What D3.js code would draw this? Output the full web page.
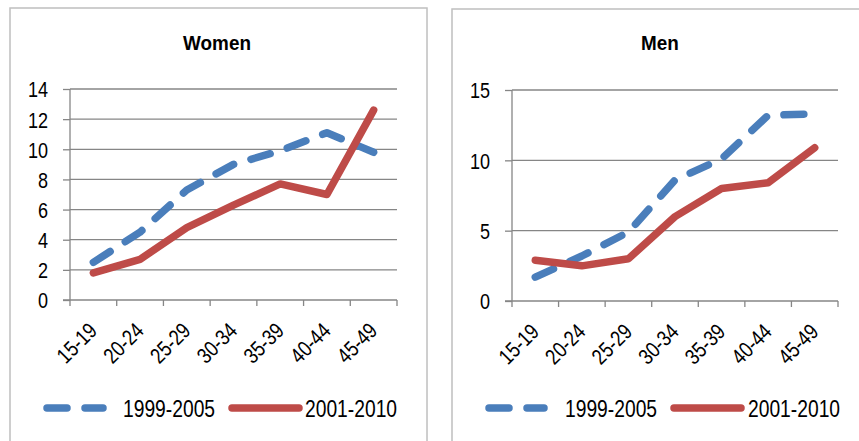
<!DOCTYPE html>
<html><head><meta charset="utf-8">
<script src="https://cdn.jsdelivr.net/npm/d3@7/dist/d3.min.js"></script>
<style>
html,body{margin:0;padding:0;background:#fff;}
svg{display:block;}
text{font-family:"Liberation Sans",Arial,sans-serif;fill:#000;}
</style></head>
<body>
<svg id="c" width="859" height="441"></svg>
<script>
const categories = ["15-19","20-24","25-29","30-34","35-39","40-44","45-49"];
const seriesNames = ["1999-2005","2001-2010"];
const women1999 = [2.5, 4.5, 7.3, 9.0, 9.9, 11.1, 9.8];
const women2001 = [1.8, 2.7, 4.8, 6.3, 7.7, 7.0, 12.6];
const men1999 = [1.7, 3.2, 4.9, 8.6, 10.1, 13.2, 13.3];
const men2001 = [2.9, 2.5, 3.0, 6.0, 8.0, 8.4, 10.9];
const womenTicks = [0,2,4,6,8,10,12,14];
const menTicks = [0,5,10,15];

const colors = ["#4a7ebb", "#be4b48"];
const NARROW = 0.82;
const svg = d3.select("#c");

function panel(cfg){
  const g = svg.append("g");
  g.append("rect").attr("x",cfg.px).attr("y",cfg.py).attr("width",cfg.pw).attr("height",460)
    .attr("fill","#fff").attr("stroke","#bfbfbf").attr("stroke-width",1.5);
  const x = d3.scaleBand().domain(categories).range([cfg.x0,cfg.x1]).paddingInner(0).paddingOuter(0);
  const y = d3.scaleLinear().domain([0,cfg.ymax]).range([cfg.yb,cfg.yt]);
  // gridlines
  g.append("g").selectAll("line").data(cfg.ticks.filter(t=>t>0)).join("line")
    .attr("x1",cfg.x0).attr("x2",cfg.x1).attr("y1",d=>y(d)).attr("y2",d=>y(d))
    .attr("stroke","#868686").attr("stroke-width",1.3);
  // y axis
  const ya = g.append("g").attr("transform",`translate(${cfg.x0},0)`)
    .call(d3.axisLeft(y).tickValues(cfg.ticks).tickSize(7).tickPadding(15).tickFormat(d3.format("d")));
  ya.select(".domain").attr("stroke","#868686").attr("stroke-width",1.3).attr("d",`M0,${cfg.yb}V${cfg.yt}`);
  ya.selectAll(".tick line").attr("stroke","#868686").attr("stroke-width",1.3);
  ya.selectAll(".tick text").attr("font-size",22).attr("dy","0.36em")
    .attr("x",-cfg.ylabGap/NARROW).attr("transform",`scale(${NARROW},1)`)
    .style("font-family",'"Liberation Sans",Arial,sans-serif').attr("fill","#000");
  // x axis
  const xa = g.append("g").attr("transform",`translate(0,${cfg.yb})`)
    .call(d3.axisBottom(x).tickSize(0).tickFormat(""));
  xa.select(".domain").remove();
  const edges = d3.range(categories.length+1).map(i=>cfg.x0 + i*x.bandwidth());
  xa.append("line").attr("x1",cfg.x0-7).attr("x2",cfg.x1).attr("y1",0).attr("y2",0)
    .attr("stroke","#868686").attr("stroke-width",1.3);
  xa.selectAll(".edge").data(edges).join("line").attr("class","edge")
    .attr("x1",d=>d).attr("x2",d=>d).attr("y1",0).attr("y2",6)
    .attr("stroke","#868686").attr("stroke-width",1.3);
  xa.selectAll(".lbl").data(categories).join("text").attr("class","lbl")
    .attr("transform",d=>`translate(${x(d)+x.bandwidth()/2-6},${21}) rotate(-45) scale(${NARROW},1)`)
    .attr("text-anchor","end").attr("dy","0.71em").attr("font-size",22).text(d=>d);
  // title
  g.append("text").attr("transform",`translate(${cfg.tx},50) scale(0.9,1)`).attr("text-anchor","middle")
    .attr("font-size",21).attr("font-weight","bold").text(cfg.title);
  // lines
  const line = d3.line().x((d,i)=>x(categories[i])+x.bandwidth()/2).y(d=>y(d));
  g.append("path").datum(cfg.s1).attr("d",line).attr("fill","none").attr("stroke",colors[0])
    .attr("stroke-width",7.5).attr("stroke-dasharray","20,18").attr("stroke-linecap","round").attr("stroke-linejoin","round");
  g.append("path").datum(cfg.s2).attr("d",line).attr("fill","none").attr("stroke",colors[1])
    .attr("stroke-width",7.5).attr("stroke-linecap","round").attr("stroke-linejoin","round");
  // legend
  const L = cfg.leg;
  g.append("line").attr("x1",L.b0+4).attr("x2",L.b1-4).attr("y1",408).attr("y2",408)
    .attr("stroke",colors[0]).attr("stroke-width",7.5).attr("stroke-dasharray","20,18").attr("stroke-linecap","round");
  g.append("text").attr("transform",`translate(${L.t0},417) scale(${NARROW},1)`).attr("font-size",23.5).text(seriesNames[0]);
  g.append("line").attr("x1",L.r0+4).attr("x2",L.r1-4).attr("y1",408).attr("y2",408)
    .attr("stroke",colors[1]).attr("stroke-width",7.5).attr("stroke-linecap","round");
  g.append("text").attr("transform",`translate(${L.t1},417) scale(${NARROW},1)`).attr("font-size",23.5).text(seriesNames[1]);
}

panel({px:10,py:8,pw:417,x0:70,x1:397,yt:89,yb:300,ymax:14,ticks:womenTicks,ylabGap:22,
  title:"Women",tx:217,s1:women1999,s2:women2001,
  leg:{b0:43,b1:107,t0:123,r0:228,r1:303,t1:305}});
panel({px:452,py:9,pw:420,x0:512,x1:838,yt:90,yb:301,ymax:15,ticks:menTicks,ylabGap:22,
  title:"Men",tx:660,s1:men1999,s2:men2001,
  leg:{b0:485,b1:548,t0:565,r0:670,r1:745,t1:748}});
</script>
</body></html>
